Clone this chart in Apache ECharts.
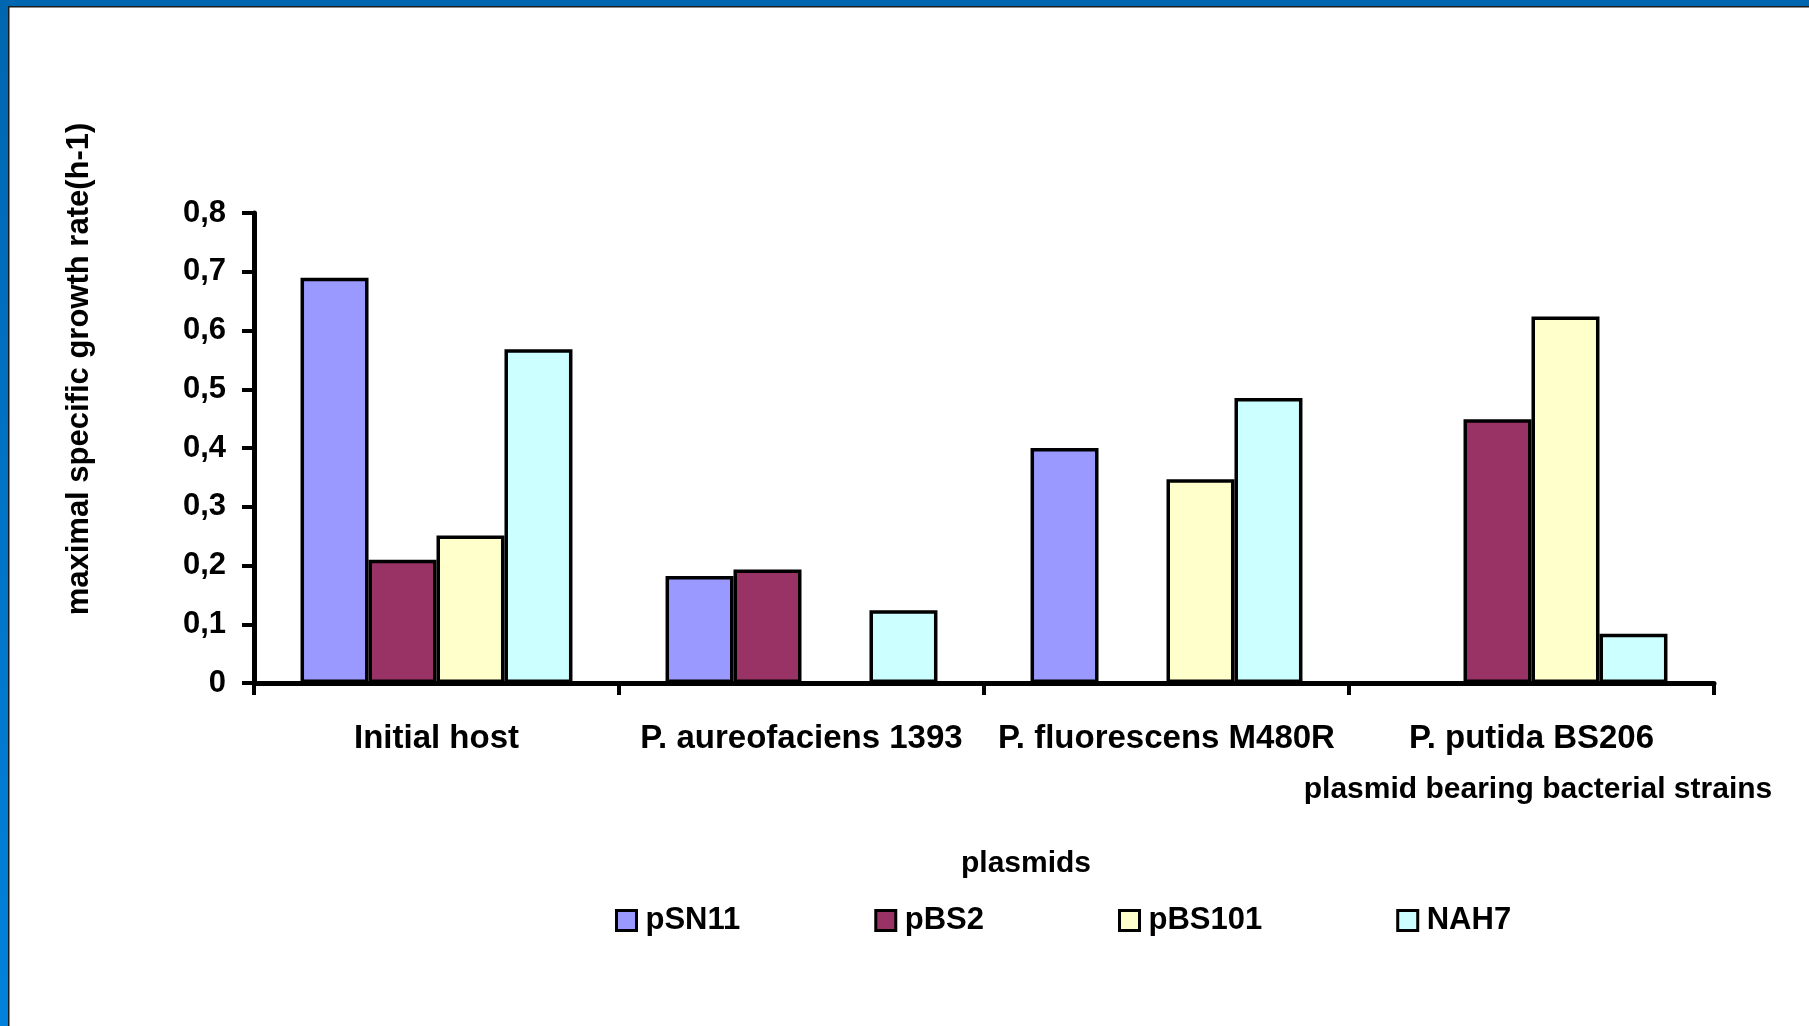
<!DOCTYPE html>
<html>
<head>
<meta charset="utf-8">
<title>Maximal specific growth rate of plasmid bearing strains</title>
<script src="https://cdn.jsdelivr.net/npm/echarts@6/dist/echarts.min.js"></script>
<style>
  html, body { margin: 0; padding: 0; background: #ffffff; }
  #chart { width: 1809px; height: 1026px; }
</style>
</head>
<body>
<div id="chart"></div>
<script>
// Host strains (x categories)
const strains = ['Initial host', 'P. aureofaciens 1393', 'P. fluorescens M480R', 'P. putida BS206'];

// Plasmid series: maximal specific growth rate (h-1) per host strain
const pSN11  = [0.69, 0.182, 0.40, 0];
const pBS2   = [0.21, 0.193, 0, 0.449];
const pBS101 = [0.251, 0, 0.347, 0.624];
const NAH7   = [0.568, 0.124, 0.485, 0.084];

const plasmidNames = ['pSN11', 'pBS2', 'pBS101', 'NAH7'];
const plasmidValues = [pSN11, pBS2, pBS101, NAH7];
const plasmidColors = ['#9999FF', '#993366', '#FFFFCC', '#CCFFFF'];

// Value axis range
const yMin = 0, yMax = 0.8, yStep = 0.1;

const FONT = '"Liberation Sans", Arial, Helvetica, sans-serif';
const FS = 31;

const chart = echarts.init(document.getElementById('chart'), null, { renderer: 'canvas' });

const series = plasmidNames.map((name, i) => ({
  name: name,
  type: 'bar',
  data: plasmidValues[i],
  barGap: '0%',
  barCategoryGap: '25.5%',
  itemStyle: { color: plasmidColors[i], borderColor: '#000', borderWidth: 3.5 },
  emphasis: { disabled: true },
  z: 2
}));

chart.setOption({
  animation: false,
  backgroundColor: '#ffffff',
  grid: { left: 254, right: 95, top: 213, bottom: 343, containLabel: false },
  legend: {
    data: plasmidNames,
    left: 615,
    top: 905,
    padding: 0,
    icon: 'rect',
    itemWidth: 20,
    itemHeight: 20,
    itemGap: 134,
    itemStyle: { borderColor: '#000', borderWidth: 3 },
    textStyle: { fontFamily: FONT, fontWeight: 'bold', fontSize: FS, color: '#000', padding: [0, 0, 0, 4] },
    selectedMode: false
  },
  xAxis: {
    type: 'category',
    data: strains,
    axisLine: { show: true, lineStyle: { color: '#000', width: 5 } },
    axisTick: { show: true, interval: 0, length: 12, lineStyle: { color: '#000', width: 4 } },
    axisLabel: { interval: 0, hideOverlap: false, margin: 39, fontFamily: FONT, fontWeight: 'bold', fontSize: 33, color: '#000' },
    splitLine: { show: false }
  },
  yAxis: {
    type: 'value',
    min: yMin,
    max: yMax,
    interval: yStep,
    axisLine: { show: true, lineStyle: { color: '#000', width: 5 } },
    axisTick: { show: true, length: 12, lineStyle: { color: '#000', width: 4 } },
    axisLabel: {
      margin: 28,
      fontFamily: FONT, fontWeight: 'bold', fontSize: FS, color: '#000',
      formatter: v => (v === 0 ? '0' : v.toFixed(1).replace('.', ','))
    },
    splitLine: { show: false }
  },
  series: series,
  graphic: [
    // frame bands along the top and left edges
    { type: 'rect', shape: { x: 0, y: 0, width: 1809, height: 6 }, style: { fill: '#0066B0' }, z: 10 },
    { type: 'rect', shape: { x: 0, y: 6, width: 1809, height: 1.5 }, style: { fill: '#1b1b1b' }, z: 10 },
    {
      type: 'rect', shape: { x: 0, y: 0, width: 8, height: 1026 },
      style: { fill: new echarts.graphic.LinearGradient(0, 0, 0, 1, [
        { offset: 0, color: '#0066B0' }, { offset: 1, color: '#0082DC' }
      ]) }, z: 11
    },
    { type: 'rect', shape: { x: 8, y: 6, width: 1.5, height: 1020 }, style: { fill: '#1b1b1b' }, z: 11 },
    // value axis title
    {
      type: 'text', x: 79, y: 369, rotation: Math.PI / 2, z: 5,
      style: { text: 'maximal specific growth rate(h-1)', font: 'bold ' + FS + 'px ' + FONT, fill: '#000', align: 'center', verticalAlign: 'middle' }
    },
    // category axis title
    {
      type: 'text', x: 1538, y: 790, z: 5,
      style: { text: 'plasmid bearing bacterial strains', font: 'bold 30px ' + FONT, fill: '#000', align: 'center', verticalAlign: 'middle' }
    },
    // legend title
    {
      type: 'text', x: 1026, y: 864, z: 5,
      style: { text: 'plasmids', font: 'bold 30px ' + FONT, fill: '#000', align: 'center', verticalAlign: 'middle' }
    }
  ]
});
</script>
</body>
</html>
